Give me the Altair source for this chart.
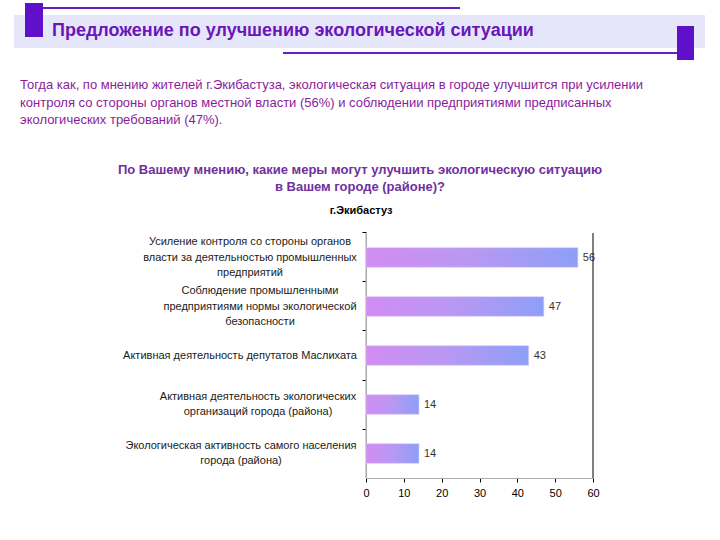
import altair as alt
import pandas as pd

# ---------------- data ----------------
categories = [
    "Усиление контроля со стороны органов\nвласти за деятельностью промышленных\nпредприятий",
    "Соблюдение промышленными\nпредприятиями нормы экологической\nбезопасности",
    "Активная деятельность депутатов Маслихата",
    "Активная деятельность экологических\nорганизаций города (района)",
    "Экологическая активность самого населения\nгорода (района)",
]
values = [56, 47, 43, 14, 14]
x_ticks = [0, 10, 20, 30, 40, 50, 60]

title_text = "Предложение по улучшению экологической ситуации"
paragraph_lines = [
    "Тогда как, по мнению жителей г.Экибастуза, экологическая ситуация в городе  улучшится при усилении",
    "контроля со стороны органов местной власти (56%) и соблюдении предприятиями предписанных",
    "экологических требований (47%).",
]
question_lines = [
    "По Вашему мнению, какие меры могут улучшить экологическую ситуацию",
    "в Вашем городе (районе)?",
]
subtitle = "г.Экибастуз"

df = pd.DataFrame({"cat": categories, "val": values})

# ---------------- layout ----------------
OX, OY = 366, 233          # plot origin on page
W, H = 227, 245            # plot area
FONT = "Liberation Sans"
LH = 15.5                  # label line height
P_IN, P_OUT = 0.6, 0.3


def px(x):
    return x - OX


def py(y):
    return y - OY


one = pd.DataFrame({"a": [0]})

yscale = alt.Scale(domain=categories, paddingInner=P_IN, paddingOuter=P_OUT)
xscale = alt.Scale(domain=[0, 60], nice=False)
# ticks between the category bands
yaxis = alt.Axis(labels=False, title=None, bandPosition=-(P_IN / 2) / (1 - P_IN),
                 tickSize=4, ticks=True, tickColor="#000000",
                 domain=True, domainColor="#aaaaaa", grid=False)
xaxis = alt.Axis(values=x_ticks, tickCount=7, title=None, grid=False, tickSize=4,
                 tickColor="#000000", domainColor="#aaaaaa", labelOverlap=False,
                 labelFlush=False, labelFont=FONT, labelFontSize=11,
                 labelColor="#000000", labelPadding=5)

gradient = alt.Gradient(
    gradient="linear",
    x1=0, x2=1, y1=0, y2=0,
    stops=[
        alt.GradientStop(color="#d18cf2", offset=0),
        alt.GradientStop(color="#b898f2", offset=0.5),
        alt.GradientStop(color="#8d9ff8", offset=1),
    ],
)

bars = alt.Chart(df).mark_bar(color=gradient, stroke="#d8c8f8", strokeWidth=0.6).encode(
    y=alt.Y("cat:N", scale=yscale, sort=categories, axis=yaxis),
    x=alt.X("val:Q", scale=xscale, axis=xaxis),
)

value_labels = alt.Chart(df).mark_text(
    align="left", baseline="middle", dx=5, font=FONT, fontSize=11, color="#333333"
).encode(
    y=alt.Y("cat:N", scale=yscale, sort=categories, axis=yaxis),
    x=alt.X("val:Q", scale=xscale, axis=xaxis),
    text="val:Q",
)

# category labels: multi-line, centred per block like the original
label_centers = [250, 260, 240, 258, 241]
label_layers = []
for cat, cx in zip(categories, label_centers):
    n = cat.count("\n")
    label_layers.append(
        alt.Chart(pd.DataFrame({"cat": [cat]})).mark_text(
            align="center", baseline="middle", lineBreak="\n", lineHeight=LH,
            font=FONT, fontSize=11, color="#1a1a1a", dy=-n * LH / 2
        ).encode(
            y=alt.Y("cat:N", scale=yscale, sort=categories, axis=yaxis),
            x=alt.value(px(cx)),
            text="cat:N",
        )
    )

right_line = alt.Chart(one).mark_rule(color="#000000", strokeWidth=1).encode(
    x=alt.value(W), y=alt.value(0), y2=alt.value(H)
)
left_line = alt.Chart(one).mark_rule(color="#aaaaaa", strokeWidth=1).encode(
    x=alt.value(0), y=alt.value(0), y2=alt.value(H)
)

# ---------------- header decorations ----------------
header_bg = alt.Chart(one).mark_rect(color="#e6e6fb").encode(
    x=alt.value(px(14)), x2=alt.value(px(705)), y=alt.value(py(15)), y2=alt.value(py(48))
)
left_block = alt.Chart(one).mark_rect(color="#6010c8").encode(
    x=alt.value(px(25)), x2=alt.value(px(43)), y=alt.value(py(3)), y2=alt.value(py(37))
)
top_line = alt.Chart(one).mark_rule(color="#6a1ec0", strokeWidth=2).encode(
    x=alt.value(px(43)), x2=alt.value(px(460)), y=alt.value(py(8))
)
right_block = alt.Chart(one).mark_rect(color="#6010c8").encode(
    x=alt.value(px(677)), x2=alt.value(px(694)), y=alt.value(py(26)), y2=alt.value(py(60))
)
bottom_line = alt.Chart(one).mark_rule(color="#6a1ec0", strokeWidth=2).encode(
    x=alt.value(px(283)), x2=alt.value(px(677)), y=alt.value(py(53))
)
title = alt.Chart(pd.DataFrame({"t": [title_text]})).mark_text(
    align="left", baseline="middle", font=FONT, fontSize=18, fontWeight="bold", color="#6a16b8"
).encode(x=alt.value(px(52)), y=alt.value(py(31)), text="t:N")

para_layers = []
for line, yy in zip(paragraph_lines, [85, 103, 120]):
    para_layers.append(
        alt.Chart(pd.DataFrame({"t": [line]})).mark_text(
            align="left", baseline="middle", font=FONT, fontSize=13, color="#8a1c9c"
        ).encode(x=alt.value(px(20)), y=alt.value(py(yy)), text="t:N")
    )

q_layers = []
for line, yy in zip(question_lines, [170, 187]):
    q_layers.append(
        alt.Chart(pd.DataFrame({"t": [line]})).mark_text(
            align="center", baseline="middle", font=FONT, fontSize=13,
            fontWeight="bold", color="#7030a0"
        ).encode(x=alt.value(px(360)), y=alt.value(py(yy)), text="t:N")
    )

sub = alt.Chart(pd.DataFrame({"t": [subtitle]})).mark_text(
    align="center", baseline="middle", font=FONT, fontSize=11, fontWeight="bold", color="#000000"
).encode(x=alt.value(px(361)), y=alt.value(py(211)), text="t:N")

chart = alt.layer(
    header_bg, top_line, bottom_line, left_block, right_block, title,
    *para_layers, *q_layers, sub,
    left_line, bars, value_labels, right_line, *label_layers,
).properties(
    width=W, height=H,
    autosize=alt.AutoSizeParams(type="none"),
    padding={"left": OX, "top": OY, "right": 720 - OX - W, "bottom": 540 - OY - H},
    background="white",
).configure_view(stroke=None)

chart.save("out.html", embed_options={"renderer": "svg", "actions": False})
